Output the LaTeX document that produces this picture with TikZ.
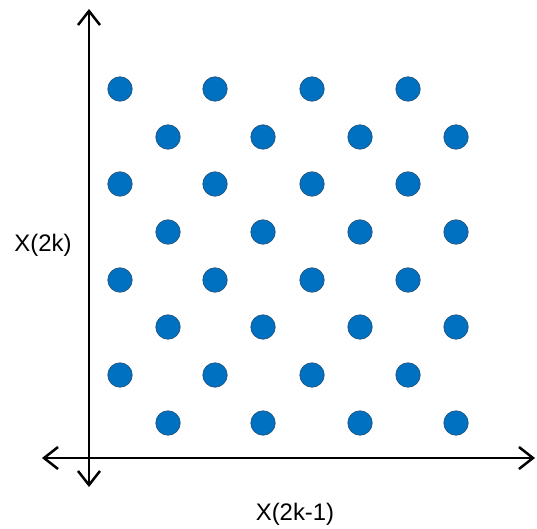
\documentclass[tikz,border=0pt]{standalone}
\usepackage{fontspec}
\setmainfont{Liberation Sans}
\usetikzlibrary{arrows.meta}
\definecolor{dotfill}{HTML}{0070C0}
\definecolor{dotedge}{HTML}{1F4E79}
\tikzset{
  axis/.style={line width=2.5bp, {Straight Barb[length=14bp,width=22bp,line width=2.5bp]}-{Straight Barb[length=14bp,width=22bp,line width=2.5bp]}},
  dot/.style={circle, fill=dotfill, draw=dotedge, line width=0.6bp, minimum size=24.5bp, inner sep=0pt},
  lbl/.style={font=\fontsize{24}{28}\selectfont, inner sep=0pt}
}
\begin{document}
\begin{tikzpicture}[x=1bp,y=-1bp]
\useasboundingbox (0,0) rectangle (537,529);
\coordinate (vt) at (89,9);
\coordinate (vb) at (89,487);
\coordinate (hl) at (42,458);
\coordinate (hr) at (535,458);
\draw[axis] (vb) -- (vt);
\draw[axis] (hl) -- (hr);
\foreach \r/\y in {0/89,1/184,2/280,3/375}{
  \foreach \c/\x in {0/120,1/215,2/312,3/408}{
    \node[dot] (a\r\c) at (\x,\y) {};
  }
}
\foreach \r/\y in {0/137,1/232,2/327,3/423}{
  \foreach \c/\x in {0/168,1/263,2/360,3/456}{
    \node[dot] (b\r\c) at (\x,\y) {};
  }
}
\node[lbl] (ly) at (43,245) {X(2k)};
\node[lbl] (lx) at (295,514) {X(2k-1)};
\end{tikzpicture}
\end{document}
